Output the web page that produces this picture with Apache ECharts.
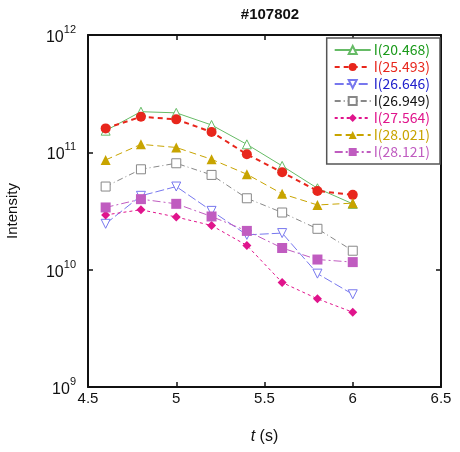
<!DOCTYPE html>
<html>
<head>
<meta charset="utf-8">
<script src="https://cdn.jsdelivr.net/npm/echarts@6/dist/echarts.min.js"></script>
<style>
  html, body { margin: 0; padding: 0; background: #fff; }
  #chart { width: 460px; height: 452px; }
</style>
</head>
<body>
<div id="chart"></div>
<script>
// time points (s)
var times = [4.6, 4.8, 5.0, 5.2, 5.4, 5.6, 5.8, 6.0];

// intensities
var i20468 = [1.53e11, 2.22e11, 2.17e11, 1.71e11, 1.17e11, 7.66e10, 4.94e10, 3.64e10];
var i25493 = [1.60e11, 2.01e11, 1.91e11, 1.49e11, 9.62e10, 6.76e10, 4.69e10, 4.34e10];
var i26646 = [2.46e10, 4.26e10, 5.11e10, 3.17e10, 1.98e10, 2.05e10, 9.25e9, 6.17e9];
var i26949 = [5.11e10, 7.17e10, 8.07e10, 6.42e10, 4.06e10, 3.07e10, 2.23e10, 1.45e10];
var i27564 = [2.93e10, 3.24e10, 2.81e10, 2.38e10, 1.61e10, 7.77e9, 5.64e9, 4.34e9];
var i28021 = [8.61e10, 1.17e11, 1.10e11, 8.72e10, 6.51e10, 4.43e10, 3.56e10, 3.69e10];
var i28121 = [3.39e10, 3.99e10, 3.64e10, 2.84e10, 2.14e10, 1.53e10, 1.22e10, 1.16e10];

var xTicks = [4.5, 5, 5.5, 6, 6.5];
var yTicks = [1e9, 1e10, 1e11, 1e12];

function pairs(vals) {
  return times.map(function (t, i) { return [t, vals[i]]; });
}

// series appearance
var defs = [
  { name: "I(20.468)", data: i20468, color: "#66bb66", text: "#1a9a1a", symbol: "triangle", size: 9, hollow: true, width: 1, type: "solid" },
  { name: "I(25.493)", data: i25493, color: "#e8261c", text: "#e8261c", symbol: "circle", size: 10, hollow: false, width: 2, type: [5, 4] },
  { name: "I(26.646)", data: i26646, color: "#7777ee", text: "#2020cc", symbol: "triangle", size: 9, hollow: true, rotate: 180, width: 1, type: [9, 3] },
  { name: "I(26.949)", data: i26949, color: "#888888", text: "#111111", symbol: "rect", size: 9, hollow: true, width: 1, type: [6, 3, 1, 3] },
  { name: "I(27.564)", data: i27564, color: "#e0148c", text: "#e0148c", symbol: "diamond", size: 9, hollow: false, width: 1, type: [3, 3] },
  { name: "I(28.021)", data: i28021, color: "#c8a400", text: "#c8a400", symbol: "triangle", size: 10, hollow: false, width: 1, type: [7, 4] },
  { name: "I(28.121)", data: i28121, color: "#c05cc0", text: "#c05cc0", symbol: "rect", size: 10, hollow: false, width: 1, type: [8, 3, 2, 3] }
];

var series = defs.map(function (d) {
  return {
    name: d.name,
    type: "line",
    data: pairs(d.data),
    symbol: d.symbol,
    symbolSize: d.size,
    symbolRotate: d.rotate || 0,
    showAllSymbol: true,
    color: d.color,
    itemStyle: {
      color: d.hollow ? "#ffffff" : d.color,
      borderColor: d.color,
      borderWidth: d.hollow ? 1 : 0
    },
    lineStyle: { color: d.color, width: d.width, type: d.type },
    emphasis: { disabled: true },
    z: 3
  };
});

function powLabel(v) {
  return "{b|10}{s|" + Math.round(Math.log10(v)) + "}";
}

var chart = echarts.init(document.getElementById("chart"), null, { renderer: "canvas" });
chart.setOption({
  animation: false,
  title: {
    text: "#107802",
    left: 265,
    top: 2,
    textAlign: "center",
    textStyle: { fontFamily: "Liberation Sans", fontSize: 15, fontWeight: "bold", color: "#111" }
  },
  grid: { left: 88, right: 19, top: 35, bottom: 65, show: false, outerBoundsMode: "none", containLabel: false },
  legend: {
    orient: "vertical",
    right: 20,
    top: 38,
    backgroundColor: "#ffffff",
    borderColor: "#555",
    borderWidth: 1.5,
    borderRadius: 0,
    padding: [5, 10, 5, 7],
    itemGap: 3,
    itemWidth: 36,
    itemHeight: 10,
    data: defs.map(function (d) {
      return { name: d.name, textStyle: { color: d.text } };
    }),
    textStyle: { fontFamily: "Noto Sans CJK JP", fontSize: 14, padding: [0, 0, 0, -2] }
  },
  xAxis: [{
    type: "value",
    min: 4.5,
    max: 6.5,
    interval: 0.5,
    name: "{i|t} (s)",
    nameLocation: "middle",
    nameGap: 42,
    nameTextStyle: {
      fontFamily: "Liberation Sans", fontSize: 16, color: "#111",
      rich: { i: { fontStyle: "italic", fontFamily: "Liberation Sans", fontSize: 16, color: "#111" } }
    },
    axisLine: { lineStyle: { color: "#111", width: 2 } },
    axisTick: { inside: true, length: 5, lineStyle: { color: "#111", width: 1.5 } },
    axisLabel: { fontFamily: "Liberation Sans", fontSize: 15, color: "#111", margin: 4, formatter: function (v) { return String(v); } },
    splitLine: { show: false }
  }, {
    type: "value",
    position: "top",
    min: 4.5,
    max: 6.5,
    interval: 0.5,
    axisLine: { show: true, lineStyle: { color: "#111", width: 2 } },
    axisTick: { inside: true, length: 5, lineStyle: { color: "#111", width: 1.5 } },
    axisLabel: { show: false },
    splitLine: { show: false }
  }],
  yAxis: [{
    type: "log",
    logBase: 10,
    min: yTicks[0],
    max: yTicks[yTicks.length - 1],
    name: "Intensity",
    nameLocation: "middle",
    nameGap: 68,
    nameRotate: 90,
    nameTextStyle: { fontFamily: "Liberation Sans", fontSize: 15, color: "#111" },
    axisLine: { show: true, lineStyle: { color: "#111", width: 2 } },
    axisTick: { inside: true, length: 5, lineStyle: { color: "#111", width: 1.5 } },
    minorTick: { show: false },
    axisLabel: {
      margin: 12,
      formatter: powLabel,
      rich: {
        b: { fontFamily: "Liberation Sans", fontSize: 16, color: "#111", verticalAlign: "bottom" },
        s: { fontFamily: "Liberation Sans", fontSize: 11, color: "#111", verticalAlign: "top", padding: [0, 0, 10, 0] }
      }
    },
    splitLine: { show: false }
  }, {
    type: "log",
    logBase: 10,
    position: "right",
    min: yTicks[0],
    max: yTicks[yTicks.length - 1],
    axisLine: { show: true, lineStyle: { color: "#111", width: 2 } },
    axisTick: { inside: true, length: 5, lineStyle: { color: "#111", width: 1.5 } },
    axisLabel: { show: false },
    splitLine: { show: false }
  }],
  series: series
});
</script>
</body>
</html>
